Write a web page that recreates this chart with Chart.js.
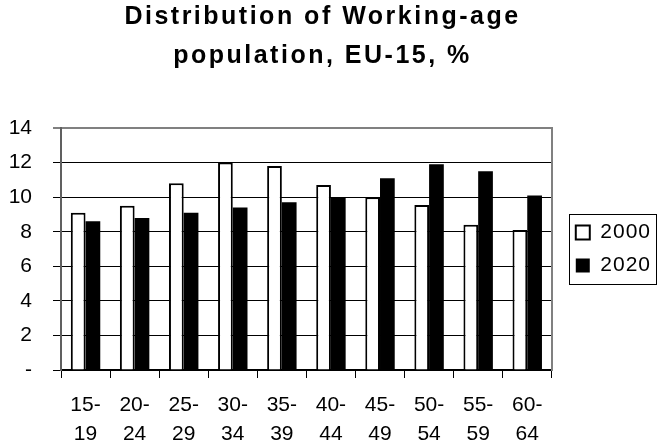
<!DOCTYPE html>
<html>
<head>
<meta charset="utf-8">
<title>Distribution of Working-age population, EU-15</title>
<script src="https://cdn.jsdelivr.net/npm/chart.js@4/dist/chart.umd.min.js"></script>
<style>
  html, body { margin: 0; padding: 0; background: #fff; }
  #wrap { width: 658px; height: 446px; }
</style>
</head>
<body>
<div id="wrap"><canvas id="popChart" width="658" height="446"></canvas></div>
<script>
const ageGroups = [['15-', '19'], ['20-', '24'], ['25-', '29'], ['30-', '34'], ['35-', '39'],
                   ['40-', '44'], ['45-', '49'], ['50-', '54'], ['55-', '59'], ['60-', '64']];
const share2000 = [9.1, 9.5, 10.8, 12.0, 11.8, 10.7, 10.0, 9.55, 8.4, 8.1];
const share2020 = [8.6, 8.8, 9.1, 9.4, 9.7, 10.0, 11.1, 11.9, 11.5, 10.1];
const yTickLabels = ['-', '2', '4', '6', '8', '10', '12', '14'];

const FONT = "'Liberation Sans', Arial, sans-serif";

// canvas has letterSpacing, chart.js doesn't expose it, so wrap a few draw calls
function spaced(obj, px, dx) {
  if (!obj || obj._spaced) return;
  const draw = obj.draw;
  obj.draw = function (...args) {
    const c = this.ctx;
    c.save();
    c.letterSpacing = px;
    if (dx) c.translate(dx, 0);
    draw.apply(this, args);
    c.restore();
  };
  obj._spaced = true;
}

const spacingPlugin = {
  id: 'spacing',
  afterLayout(chart) {
    spaced(chart.titleBlock, '2.5px', -6);
    spaced(chart.scales.x, '1px', 0);
    spaced(chart.legend, '1px', 0);
  }
};

const legendFrame = {
  id: 'legendFrame',
  afterDraw(chart) {
    const hb = chart.legend && chart.legend.legendHitBoxes;
    if (!hb || !hb.length) return;
    const ctx = chart.ctx;
    const last = hb[hb.length - 1];
    const left = hb[0].left - 7;
    const top = hb[0].top - 8;
    const right = hb[0].left + 80;
    const bottom = last.top + last.height + 8;
    ctx.save();
    ctx.strokeStyle = '#000';
    ctx.lineWidth = 1;
    ctx.strokeRect(Math.round(left) + 0.5, Math.round(top) + 0.5,
                   Math.round(right - left), Math.round(bottom - top));
    ctx.restore();
  }
};

const ctx = document.getElementById('popChart').getContext('2d');

new Chart(ctx, {
  type: 'bar',
  data: {
    labels: ageGroups,
    datasets: [{
      label: '2000',
      data: share2000,
      backgroundColor: '#ffffff',
      borderColor: '#000000',
      borderWidth: 2,
      borderSkipped: 'start',
      categoryPercentage: 0.6,
      barPercentage: 1.0
    }, {
      label: '2020',
      data: share2020,
      backgroundColor: '#000000',
      borderColor: '#000000',
      borderWidth: 0,
      categoryPercentage: 0.6,
      barPercentage: 1.0
    }]
  },
  options: {
    responsive: false,
    animation: false,
    layout: { padding: { left: 0, right: 1, top: 0, bottom: 0 } },
    plugins: {
      title: {
        display: true,
        text: ['Distribution of Working-age', 'population, EU-15, %'],
        color: '#000',
        font: { family: FONT, size: 25, weight: 'bold', lineHeight: 1.56 },
        padding: { top: -2, bottom: 52 }
      },
      legend: {
        position: 'right',
        fullSize: false,
        labels: {
          color: '#000',
          font: { family: FONT, size: 21 },
          boxWidth: 14,
          boxHeight: 14,
          padding: 12
        }
      },
      tooltip: { enabled: false }
    },
    scales: {
      x: {
        grid: {
          offset: true,
          drawOnChartArea: false,
          drawTicks: true,
          tickLength: 8,
          color: '#000',
          lineWidth: 1
        },
        border: { color: '#000', width: 1.5 },
        ticks: {
          color: '#000',
          padding: 13,
          maxRotation: 0,
          autoSkip: false,
          font: { family: FONT, size: 21, lineHeight: 1.38 }
        },
        afterFit(scale) { scale.height = 76; }
      },
      y: {
        min: 0,
        max: 14,
        grid: {
          color: (c) => (c.tick && c.tick.value === 14 ? '#808080' : '#000'),
          lineWidth: (c) => (c.tick && c.tick.value === 14 ? 2 : 1),
          tickLength: 8
        },
        border: { color: '#606060', width: 2 },
        ticks: {
          stepSize: 2,
          color: '#000',
          padding: 21,
          font: { family: FONT, size: 21 },
          callback: (value, index) => yTickLabels[index]
        },
        afterFit(scale) { scale.width = 61; }
      },
      y2: {
        type: 'linear',
        position: 'right',
        grid: { display: false, drawTicks: false },
        border: { color: '#808080', width: 2 },
        ticks: { display: false },
        afterFit(scale) { scale.width = 12; }
      }
    }
  },
  plugins: [spacingPlugin, legendFrame]
});
</script>
</body>
</html>
